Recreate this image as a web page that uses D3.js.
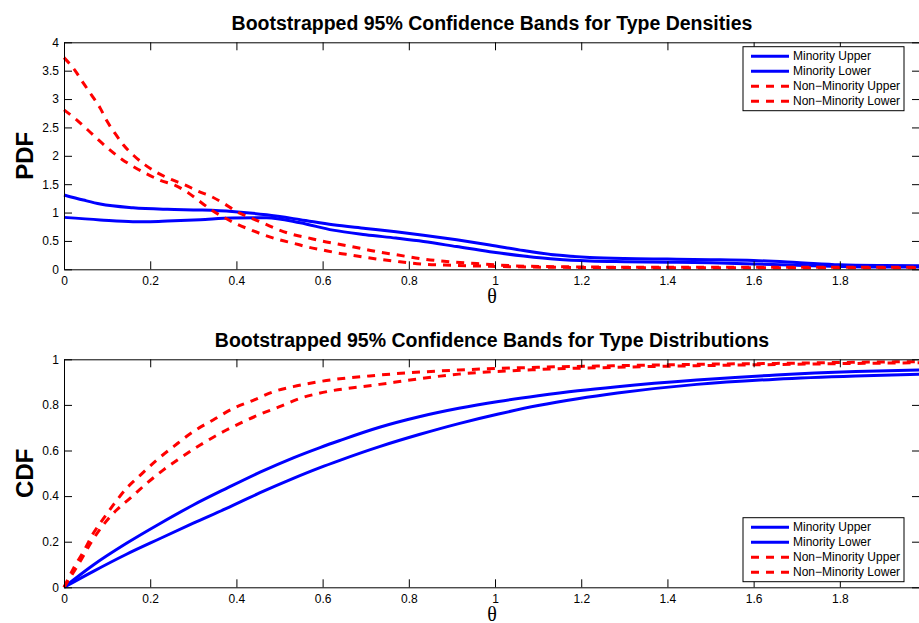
<!DOCTYPE html>
<html>
<head>
<meta charset="utf-8">
<script src="https://cdnjs.cloudflare.com/ajax/libs/d3/7.8.5/d3.min.js"></script>
<style>
    body { margin: 0; background: #fff; }
    svg { display: block; font-family: "Liberation Sans", Arial, sans-serif; }
</style>
</head>
<body>
<div id="chart"></div>
<script>
// legend entries, in plotting order
const seriesNames = ["Minority Upper", "Minority Lower", "Non\u2212Minority Upper", "Non\u2212Minority Lower"];

// tick values
const xTicks = [0, 0.2, 0.4, 0.6, 0.8, 1, 1.2, 1.4, 1.6, 1.8];
const pdfTicks = [0, 0.5, 1, 1.5, 2, 2.5, 3, 3.5, 4];
const cdfTicks = [0, 0.2, 0.4, 0.6, 0.8, 1];

// density bands, [theta, value]
const pdfMinorityUpper = [[0, 1.31], [0.045, 1.22], [0.084, 1.15], [0.16, 1.085], [0.24, 1.057], [0.316, 1.045],
    [0.39, 1.02], [0.47, 0.96], [0.548, 0.875], [0.624, 0.785], [0.70, 0.72], [0.77, 0.66], [0.834, 0.60],
    [0.911, 0.52], [0.988, 0.43], [1.066, 0.33], [1.143, 0.25], [1.22, 0.21], [1.30, 0.19], [1.4, 0.18],
    [1.5, 0.17], [1.6, 0.155], [1.7, 0.12], [1.8, 0.08], [1.9, 0.065], [2.0, 0.06]];
const pdfMinorityLower = [[0, 0.915], [0.084, 0.87], [0.16, 0.84], [0.2, 0.84], [0.24, 0.85], [0.316, 0.875],
    [0.39, 0.905], [0.47, 0.91], [0.548, 0.82], [0.624, 0.69], [0.70, 0.61], [0.77, 0.55], [0.834, 0.49],
    [0.911, 0.40], [0.988, 0.31], [1.066, 0.235], [1.143, 0.176], [1.22, 0.146], [1.3, 0.134], [1.4, 0.125],
    [1.5, 0.115], [1.6, 0.095], [1.7, 0.07], [1.8, 0.05], [1.9, 0.04], [2.0, 0.04]];
const pdfNonMinorityUpper = [[0, 3.73], [0.025, 3.51], [0.045, 3.28], [0.064, 3.07], [0.084, 2.84], [0.099, 2.62],
    [0.118, 2.40], [0.138, 2.19], [0.161, 2.01], [0.188, 1.84], [0.219, 1.69], [0.25, 1.58], [0.28, 1.49],
    [0.31, 1.38], [0.345, 1.27], [0.373, 1.15], [0.40, 1.02], [0.435, 0.90], [0.466, 0.80], [0.497, 0.70],
    [0.528, 0.62], [0.563, 0.56], [0.598, 0.50], [0.633, 0.45], [0.667, 0.40], [0.70, 0.35], [0.733, 0.30],
    [0.768, 0.26], [0.834, 0.18], [0.90, 0.13], [0.973, 0.093], [1.04, 0.063], [1.15, 0.045], [1.3, 0.037],
    [1.6, 0.035], [2.0, 0.035]];
const pdfNonMinorityLower = [[0, 2.81], [0.03, 2.63], [0.056, 2.45], [0.08, 2.28], [0.107, 2.10], [0.134, 1.94],
    [0.161, 1.81], [0.192, 1.68], [0.223, 1.57], [0.258, 1.48], [0.288, 1.35], [0.316, 1.19], [0.343, 1.04],
    [0.37, 0.92], [0.40, 0.80], [0.435, 0.69], [0.466, 0.60], [0.50, 0.52], [0.532, 0.46], [0.567, 0.39],
    [0.60, 0.34], [0.633, 0.29], [0.667, 0.25], [0.70, 0.21], [0.737, 0.17], [0.77, 0.14], [0.834, 0.09],
    [0.90, 0.07], [0.973, 0.055], [1.04, 0.045], [1.15, 0.035], [1.3, 0.03], [1.6, 0.028], [2.0, 0.028]];

// distribution bands, [theta, value]
const cdfMinorityUpper = [[0, 0], [0.068, 0.098], [0.145, 0.193], [0.223, 0.28], [0.30, 0.361], [0.377, 0.434],
    [0.455, 0.505], [0.532, 0.568], [0.594, 0.613], [0.64, 0.644], [0.732, 0.702], [0.824, 0.748], [0.916, 0.785],
    [1.008, 0.815], [1.10, 0.840], [1.192, 0.862], [1.284, 0.88], [1.468, 0.909], [1.652, 0.931], [1.837, 0.946],
    [2.0, 0.954]];
const cdfMinorityLower = [[0, 0], [0.068, 0.07], [0.145, 0.145], [0.223, 0.214], [0.30, 0.281], [0.377, 0.346],
    [0.455, 0.415], [0.532, 0.478], [0.594, 0.525], [0.64, 0.557], [0.732, 0.617], [0.824, 0.670], [0.916, 0.718],
    [1.008, 0.760], [1.10, 0.797], [1.192, 0.827], [1.284, 0.852], [1.468, 0.89], [1.652, 0.913], [1.837, 0.927],
    [2.0, 0.935]];
const cdfNonMinorityUpper = [[0, 0], [0.022, 0.083], [0.045, 0.156], [0.068, 0.237], [0.091, 0.30], [0.114, 0.36],
    [0.145, 0.434], [0.176, 0.49], [0.215, 0.558], [0.254, 0.617], [0.30, 0.683], [0.346, 0.734], [0.393, 0.785],
    [0.439, 0.82], [0.486, 0.858], [0.532, 0.88], [0.586, 0.90], [0.732, 0.931], [0.916, 0.953], [1.10, 0.965],
    [1.284, 0.972], [1.468, 0.978], [1.652, 0.982], [1.837, 0.987], [2.0, 0.99]];
const cdfNonMinorityLower = [[0, 0], [0.037, 0.112], [0.064, 0.20], [0.091, 0.273], [0.122, 0.339], [0.153, 0.39],
    [0.192, 0.456], [0.23, 0.514], [0.269, 0.566], [0.316, 0.624], [0.362, 0.675], [0.408, 0.719], [0.455, 0.759],
    [0.50, 0.792], [0.548, 0.829], [0.59, 0.85], [0.732, 0.89], [0.916, 0.935], [1.10, 0.955], [1.284, 0.965],
    [1.468, 0.972], [1.652, 0.977], [1.837, 0.982], [2.0, 0.985]];

const width = 919;
const height = 623;
const plotLeft = 64;
const plotRight = 920;
const tickLen = 8;

const seriesStyle = [
    { color: "#0000ff", dash: null },
    { color: "#0000ff", dash: null },
    { color: "#ff0000", dash: "8,7" },
    { color: "#ff0000", dash: "8,7" }
];

const svg = d3.select("#chart")
    .append("svg")
    .attr("width", width)
    .attr("height", height);

const fmt = d => String(+d.toFixed(2));

function drawPanel(cfg) {
    const xScale = d3.scaleLinear()
        .domain([0, 1.986])
        .range([plotLeft, plotRight]);
    const yScale = d3.scaleLinear()
        .domain(cfg.yDomain)
        .range([cfg.bottom, cfg.top]);

    const g = svg.append("g");

    // data lines
    const line = d3.line()
        .x(d => xScale(d[0]))
        .y(d => yScale(d[1]))
        .curve(d3.curveMonotoneX);

    g.selectAll(".band")
        .data(cfg.series)
        .join("path")
        .attr("class", "band")
        .attr("d", d => line(d))
        .attr("fill", "none")
        .attr("stroke", (_, i) => seriesStyle[i].color)
        .attr("stroke-width", 3)
        .attr("stroke-dasharray", (_, i) => seriesStyle[i].dash);

    // axes, matlab style: inward ticks on all four sides
    const xAxis = d3.axisBottom(xScale).tickValues(xTicks).tickFormat(fmt)
        .tickSizeInner(-tickLen).tickSizeOuter(0).tickPadding(7);
    g.append("g")
        .attr("transform", `translate(0,${cfg.bottom})`)
        .call(xAxis);
    g.append("g")
        .attr("transform", `translate(0,${cfg.top})`)
        .call(d3.axisTop(xScale).tickValues(xTicks).tickFormat("").tickSizeInner(-tickLen).tickSizeOuter(0));

    g.append("g")
        .attr("transform", `translate(${plotLeft},0)`)
        .call(d3.axisLeft(yScale).tickValues(cfg.yTicks).tickFormat(fmt)
            .tickSizeInner(-tickLen).tickSizeOuter(0).tickPadding(5));
    g.append("g")
        .attr("transform", `translate(${plotRight},0)`)
        .call(d3.axisRight(yScale).tickValues(cfg.yTicks).tickFormat("").tickSizeInner(-tickLen).tickSizeOuter(0));

    g.selectAll(".tick text")
        .style("font-size", "12px")
        .attr("fill", "#000");
    g.selectAll(".tick line").attr("stroke", "#000");
    g.selectAll(".domain").attr("stroke", "#000");

    // title and labels
    g.append("text")
        .attr("x", (plotLeft + plotRight) / 2)
        .attr("y", cfg.top - 12)
        .attr("text-anchor", "middle")
        .style("font-size", "19.5px")
        .style("font-weight", "bold")
        .text(cfg.title);

    g.append("text")
        .attr("transform", `translate(33,${(cfg.top + cfg.bottom) / 2}) rotate(-90)`)
        .attr("text-anchor", "middle")
        .style("font-size", "24px")
        .style("font-weight", "bold")
        .text(cfg.yLabel);

    g.append("text")
        .attr("x", (plotLeft + plotRight) / 2)
        .attr("y", cfg.bottom + 34)
        .attr("text-anchor", "middle")
        .style("font-family", "'Liberation Serif', 'DejaVu Serif', serif")
        .style("font-size", "20px")
        .text("\u03b8");

    // legend
    const lg = g.append("g")
        .attr("transform", `translate(743,${cfg.legendTop})`);
    lg.append("rect")
        .attr("width", 161)
        .attr("height", 64)
        .attr("fill", "#fff")
        .attr("stroke", "#000")
        .attr("stroke-width", 1);
    const rows = lg.selectAll(".entry")
        .data(seriesNames)
        .join("g")
        .attr("class", "entry")
        .attr("transform", (_, i) => `translate(0,${9.5 + i * 15})`);
    rows.append("line")
        .attr("x1", 8)
        .attr("x2", 46)
        .attr("stroke", (_, i) => seriesStyle[i].color)
        .attr("stroke-width", 3)
        .attr("stroke-dasharray", (_, i) => seriesStyle[i].dash);
    rows.append("text")
        .attr("x", 50)
        .attr("dy", "0.35em")
        .style("font-size", "12px")
        .text(d => d);
}

drawPanel({
    title: "Bootstrapped 95% Confidence Bands for Type Densities",
    yLabel: "PDF",
    top: 42.3,
    bottom: 269.3,
    yDomain: [0, 4],
    yTicks: pdfTicks,
    legendTop: 46.7,
    series: [pdfMinorityUpper, pdfMinorityLower, pdfNonMinorityUpper, pdfNonMinorityLower]
});

drawPanel({
    title: "Bootstrapped 95% Confidence Bands for Type Distributions",
    yLabel: "CDF",
    top: 359.3,
    bottom: 587.3,
    yDomain: [0, 1],
    yTicks: cdfTicks,
    legendTop: 517.7,
    series: [cdfMinorityUpper, cdfMinorityLower, cdfNonMinorityUpper, cdfNonMinorityLower]
});
</script>
</body>
</html>
